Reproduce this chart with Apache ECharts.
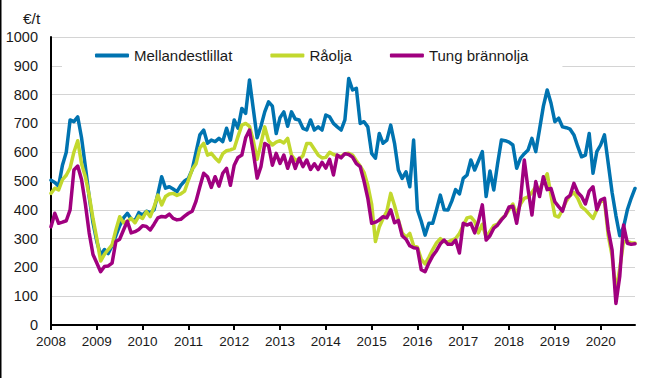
<!DOCTYPE html>
<html>
<head>
<meta charset="utf-8">
<script src="https://cdn.jsdelivr.net/npm/echarts@6/dist/echarts.min.js"></script>
<style>
  html, body { margin: 0; padding: 0; background: #fff; }
  #chart { width: 658px; height: 378px; }
</style>
</head>
<body>
<div id="chart"></div>
<script>
// Years and months of the monthly series (Jan 2008 – Oct 2020)
const years = [2008, 2009, 2010, 2011, 2012, 2013, 2014, 2015, 2016, 2017, 2018, 2019, 2020];
const monthsInLastYear = 10;
const categories = [];
years.forEach(function (y) {
  const n = (y === 2020) ? monthsInLastYear : 12;
  for (let m = 1; m <= n; m++) categories.push(y + '-' + (m < 10 ? '0' + m : m));
});

const seriesNames = ['Mellandestlillat', 'Råolja', 'Tung brännolja'];
const unitLabel = '€/t';

// €/t, monthly
const mellandestillat = [
  503, 495, 482, 555, 600, 712, 706, 723, 650, 550, 445, 355,
  290, 243, 262, 248, 275, 310, 345, 372, 388, 368, 362, 390,
  382, 395, 390, 400, 455, 515, 475, 480, 472, 463, 485, 500,
  509, 540, 600, 660, 677, 631, 642, 637, 648, 637, 683, 642,
  712, 683, 752, 735, 851, 750, 650, 690, 740, 775, 760, 665,
  720, 740, 690, 740, 715, 712, 683, 677, 712, 677, 688, 677,
  729, 723, 700, 688, 677, 712, 856, 816, 822, 700, 706, 688,
  596, 579, 665, 631, 642, 694, 631, 538, 509, 532, 480, 642,
  400, 360, 312, 353, 353, 400, 451, 400, 399, 430, 470, 455,
  509, 521, 573, 538, 570, 602, 446, 535, 469, 560, 642, 640,
  635, 625, 544, 579, 595, 608, 648, 602, 680, 760, 816, 770,
  706, 718, 688, 685, 680, 660, 620, 584, 590, 665, 527, 602,
  625, 660, 560, 460, 380, 310, 340, 400, 440, 474
];

const raolja = [
  457, 475, 469, 505, 520, 545, 600, 640, 560, 515, 450, 370,
  300, 222, 245, 262, 278, 330, 376, 355, 360, 370, 355, 378,
  370, 394, 376, 410, 451, 417, 446, 455, 457, 450, 455, 465,
  503, 540, 560, 615, 631, 590, 596, 580, 567, 595, 605, 608,
  613, 655, 694, 700, 690, 640, 575, 630, 688, 640, 625, 635,
  640, 632, 648, 590, 572, 575, 588, 630, 630, 610, 590, 580,
  582, 600, 592, 588, 585, 595, 596, 590, 570, 552, 530, 485,
  420, 290, 340, 370, 395, 457, 415, 365, 320, 305, 318, 275,
  270, 228, 212, 235, 262, 285, 300, 290, 288, 295, 300, 318,
  345, 372, 375, 360, 320, 350, 305, 325, 345, 350, 368, 380,
  400, 420, 385, 420, 440, 445, 460, 480, 470, 500, 525, 450,
  380, 375, 400, 430, 450, 460, 440, 410, 400, 385, 370, 400,
  430, 430, 310, 240, 115, 195, 290, 290, 285, 285
];

const tungBrannolja = [
  341, 388, 353, 357, 362, 400, 538, 552, 505, 420, 320, 245,
  215, 185, 203, 205, 215, 290, 298, 330, 360, 320, 324, 332,
  345, 342, 330, 350, 372, 377, 375, 385, 370, 365, 367, 378,
  388, 395, 430, 480, 527, 515, 478, 515, 482, 527, 544, 485,
  555, 582, 590, 650, 677, 600, 510, 550, 630, 622, 555, 596,
  561, 590, 544, 584, 544, 579, 550, 573, 540, 560, 540, 565,
  545, 575, 521, 590, 580, 595, 592, 583, 560, 550, 500, 440,
  353, 357, 365, 376, 372, 400, 355, 363, 310, 298, 275, 268,
  266, 192, 185, 215, 240, 258, 282, 295, 280, 280, 295, 250,
  353, 347, 353, 320, 360, 417, 295, 310, 336, 347, 365, 380,
  410, 412, 353, 434, 573, 470, 382, 498, 446, 515, 470, 474,
  428, 411, 395, 440, 450, 492, 460, 446, 420, 465, 480, 400,
  434, 440, 330, 260, 75, 168, 347, 284, 280, 282
];

const colors = ['#0073b0', '#c2d82e', '#a0007f'];
const fontFamily = '"Liberation Sans", Arial, sans-serif';

const chart = echarts.init(document.getElementById('chart'), null, { renderer: 'svg' });

function lineSeries(name, data, color) {
  return {
    name: name,
    type: 'line',
    data: data,
    symbol: 'none',
    smooth: false,
    lineStyle: { color: color, width: 3.5, cap: 'round', join: 'round' },
    itemStyle: { color: color }
  };
}

chart.setOption({
  animation: false,
  backgroundColor: '#fff',
  textStyle: { fontFamily: fontFamily },
  grid: { left: 51, right: 23, top: 37, bottom: 53, containLabel: false },
  legend: {
    data: seriesNames,
    left: 62,
    top: 40,
    padding: [8, 34, 8, 33],
    backgroundColor: '#fff',
    icon: 'roundRect',
    itemWidth: 34,
    itemHeight: 4,
    itemGap: 38,
    textStyle: { fontSize: 15, color: '#1a1a1a', fontFamily: fontFamily }
  },
  xAxis: {
    type: 'category',
    data: categories,
    boundaryGap: false,
    axisLine: { lineStyle: { color: '#000', width: 2 } },
    axisTick: { show: true, interval: 11, length: 5, lineStyle: { color: '#000', width: 2 } },
    axisLabel: {
      interval: 11,
      margin: 9,
      fontSize: 13.5,
      color: '#1a1a1a',
      fontFamily: fontFamily,
      formatter: function (v) { return v.slice(0, 4); }
    },
    splitLine: { show: false }
  },
  yAxis: {
    type: 'value',
    min: 0,
    max: 1000,
    interval: 100,
    axisLine: { show: true, lineStyle: { color: '#000', width: 2 } },
    axisTick: { show: false },
    axisLabel: {
      margin: 13, fontSize: 14.5, color: '#1a1a1a', fontFamily: fontFamily,
      formatter: function (v) { return String(v); }
    },
    splitLine: { lineStyle: { color: '#d4d4d4', width: 1 } }
  },
  graphic: [
    { type: 'rect', left: 0, top: 0, shape: { width: 1.5, height: 378 }, style: { fill: '#000' } },
    { type: 'text', left: 23, top: 10, style: { text: unitLabel, fontSize: 15.5, fill: '#1a1a1a', fontFamily: fontFamily } }
  ],
  series: [
    lineSeries(seriesNames[0], mellandestillat, colors[0]),
    lineSeries(seriesNames[1], raolja, colors[1]),
    lineSeries(seriesNames[2], tungBrannolja, colors[2])
  ]
});
</script>
</body>
</html>
